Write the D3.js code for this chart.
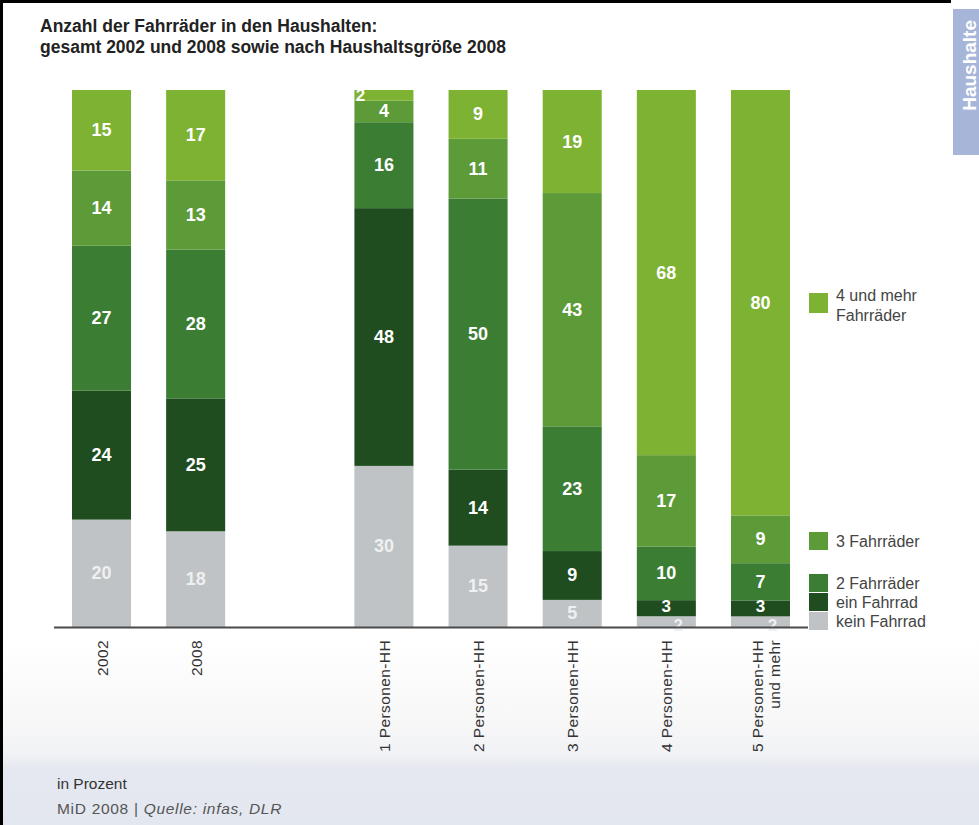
<!DOCTYPE html>
<html><head><meta charset="utf-8">
<script src="https://cdn.jsdelivr.net/npm/d3@7"></script>
<style>
body{margin:0;background:#fff;}
svg{display:block;font-family:"Liberation Sans",Arial,sans-serif;}
</style></head>
<body><svg id="c" width="979" height="825"></svg>
<script>
// ---- data ----
const categories = ["2002","2008","1 Personen-HH","2 Personen-HH","3 Personen-HH","4 Personen-HH","5 Personen-HH"];
const seriesNames = ["kein Fahrrad","ein Fahrrad","2 Fahrräder","3 Fahrräder","4 und mehr Fahrräder"];
const keinFahrrad   = [20,18,30,15, 5, 2, 2];
const einFahrrad    = [24,25,48,14, 9, 3, 3];
const zweiFahrraeder= [27,28,16,50,23,10, 7];
const dreiFahrraeder= [14,13, 4,11,43,17, 9];
const vierUndMehr   = [15,17, 2, 9,19,68,80];
const seriesColors = ["#bfc3c5","#1f4d1f","#3b7d33","#5d9a38","#7db232"];

const series = [keinFahrrad,einFahrrad,zweiFahrraeder,dreiFahrraeder,vierUndMehr];
const table = categories.map((c,i)=>{const o={cat:c};seriesNames.forEach((s,j)=>o[s]=series[j][i]);return o;});

const svg = d3.select("#c");

// background / footer
const defs = svg.append("defs");
const g1 = defs.append("linearGradient").attr("id","foot").attr("x1",0).attr("x2",0).attr("y1",0).attr("y2",1);
g1.append("stop").attr("offset","0").attr("stop-color","#ffffff");
g1.append("stop").attr("offset","0.45").attr("stop-color","#f7f7f8");
g1.append("stop").attr("offset","0.62").attr("stop-color","#f1f2f5");
g1.append("stop").attr("offset","0.69").attr("stop-color","#e5e8f0");
g1.append("stop").attr("offset","1").attr("stop-color","#e3e7f0");
svg.append("rect").attr("x",0).attr("y",640).attr("width",979).attr("height",185).attr("fill","url(#foot)");

// frame lines
svg.append("rect").attr("x",0).attr("y",0).attr("width",3).attr("height",825).attr("fill","#000");
svg.append("rect").attr("x",0).attr("y",0).attr("width",951).attr("height",3).attr("fill","#000");

// tab
svg.append("rect").attr("x",953).attr("y",9).attr("width",26).attr("height",146).attr("fill","#a7b5d8");
svg.append("text").attr("transform","translate(976,20) rotate(-90)").attr("text-anchor","end")
  .attr("fill","#fff").attr("font-weight","bold").attr("font-size",19).text("Haushalte");

// title
svg.append("text").attr("x",40).attr("y",32).attr("font-size",17.5).attr("font-weight","bold").attr("fill","#222")
  .text("Anzahl der Fahrräder in den Haushalten:");
svg.append("text").attr("x",40).attr("y",53).attr("font-size",17.5).attr("font-weight","bold").attr("fill","#222")
  .text("gesamt 2002 und 2008 sowie nach Haushaltsgröße 2008");

// scales
const domain = ["2002","2008","__gap__","1 Personen-HH","2 Personen-HH","3 Personen-HH","4 Personen-HH","5 Personen-HH"];
const x = d3.scaleBand().domain(domain).range([72,790]).paddingInner(0.373).paddingOuter(0);
const y = d3.scaleLinear().domain([0,1]).range([627,90]);

const stack = d3.stack().keys(seriesNames).offset(d3.stackOffsetExpand);
const stacked = stack(table);

const layers = svg.append("g").selectAll("g").data(stacked).join("g").attr("fill",(d,i)=>seriesColors[i]);
layers.selectAll("rect").data(d=>d).join("rect")
  .attr("x",d=>x(d.data.cat)).attr("width",x.bandwidth())
  .attr("y",d=>y(d[1])).attr("height",d=>y(d[0])-y(d[1]));

// value labels
stacked.forEach((layer,li)=>{
  layer.forEach(d=>{
    const v = d.data[layer.key];
    const cx = x(d.data.cat)+x.bandwidth()/2;
    const cy = (y(d[0])+y(d[1]))/2;
    let tx = cx, ty = cy+6, fs = 18;
    if (v<=2){
      if (li===seriesNames.length-1){ tx = x(d.data.cat)+6; ty = y(d[1])+11; fs=17; }
      else { tx = cx+12; ty = cy+9; fs=17; }
    } else if (v===3){ ty = cy+4; fs=17; }
    svg.append("text").attr("x",tx).attr("y",ty).attr("text-anchor","middle")
      .attr("font-size",fs).attr("font-weight","bold")
      .attr("fill", li===0 ? "#eef0f1" : "#ffffff").text(v);
  });
});

// axis line
svg.append("line").attr("x1",54).attr("x2",808).attr("y1",627.5).attr("y2",627.5).attr("stroke","#4a4a4a").attr("stroke-width",2);

// x labels
const xLabels = {"2002":["2002"],"2008":["2008"],"1 Personen-HH":["1 Personen-HH"],"2 Personen-HH":["2 Personen-HH"],
  "3 Personen-HH":["3 Personen-HH"],"4 Personen-HH":["4 Personen-HH"],"5 Personen-HH":["5 Personen-HH","und mehr"]};
categories.forEach(c=>{
  const lines = xLabels[c];
  const cx = x(c)+x.bandwidth()/2;
  lines.forEach((l,k)=>{
    const off = lines.length>1 ? (k===0?-3:14) : 0;
    svg.append("text").attr("transform",`translate(${cx+6+off},640) rotate(-90)`).attr("text-anchor","end")
      .attr("font-size",15.5).attr("letter-spacing",0.4).attr("fill","#333").text(l);
  });
});

// legend
const legendItems = [
  {i:4, y:293, lines:["4 und mehr","Fahrräder"]},
  {i:3, y:532, lines:["3 Fahrräder"]},
  {i:2, y:574, lines:["2 Fahrräder"]},
  {i:1, y:593, lines:["ein Fahrrad"]},
  {i:0, y:612, lines:["kein Fahrrad"]}
];
legendItems.forEach(it=>{
  svg.append("rect").attr("x",809).attr("y",it.y).attr("width",19).attr("height",it.i===4?20:18).attr("fill",seriesColors[it.i]);
  it.lines.forEach((l,k)=>{
    svg.append("text").attr("x",836).attr("y",it.y+(it.i===4?8:15)+k*20).attr("font-size",16).attr("fill","#444").text(l);
  });
});

// footer
svg.append("text").attr("x",57).attr("y",789).attr("font-size",15.5).attr("fill","#333").text("in Prozent");
const f = svg.append("text").attr("x",57).attr("y",814).attr("font-size",15.5).attr("letter-spacing",0.7).attr("fill","#555");
f.append("tspan").text("MiD 2008 | ");
f.append("tspan").attr("font-style","italic").text("Quelle: infas, DLR");
</script></body></html>
